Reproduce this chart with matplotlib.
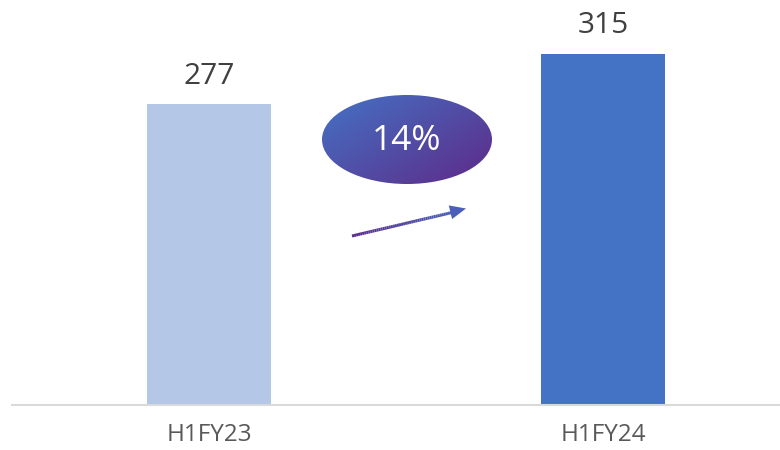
import numpy as np
import matplotlib
matplotlib.use("Agg")
import matplotlib.pyplot as plt
from matplotlib.patches import Ellipse, Polygon
from matplotlib.collections import LineCollection
from matplotlib.colors import LinearSegmentedColormap

categories = ["H1FY23", "H1FY24"]
values = [277, 315]
bar_colors = ["#B4C7E7", "#4472C4"]
growth_label = "14%"

plt.rcParams['font.family'] = ['Open Sans', 'DejaVu Sans']

fig = plt.figure(figsize=(7.8, 4.5), dpi=100)
W, H = 780, 450
ax = fig.add_axes([12 / W, 45 / H, (780 - 12) / W, 405 / H])

x = np.arange(len(categories))
ax.bar(x, values, width=0.315, color=bar_colors, zorder=2)
for xi, v in zip(x, values):
    ax.text(xi, v + 10, f"{v}", ha="center", va="bottom", fontsize=21.5, color="#404040")

ax.set_xlim(-0.5, 1.449)
ax.set_ylim(50, 355.4)
ax.set_xticks(x)
ax.set_xticklabels(categories, fontsize=17.5, color="#595959")
ax.tick_params(axis="x", length=0, pad=13)
ax.set_yticks([])
for s in ["top", "right", "left"]:
    ax.spines[s].set_visible(False)
ax.spines["bottom"].set_color("#D9D9D9")
ax.spines["bottom"].set_linewidth(1.5)

# Overlay in pixel coordinates for the growth badge and arrow
ov = fig.add_axes([0, 0, 1, 1])
ov.set_xlim(0, W)
ov.set_ylim(H, 0)
ov.axis("off")

cmap = LinearSegmentedColormap.from_list("g", ["#4472C4", "#5E2A88"])
cx, cy, ew, eh = 407, 139.5, 170, 89
gx, gy = np.meshgrid(np.linspace(0, 1, 200), np.linspace(0, 1, 200))
grad = (gx * 0.55 + gy * 0.45)
im = ov.imshow(grad, cmap=cmap, extent=(cx - ew / 2, cx + ew / 2, cy + eh / 2, cy - eh / 2),
               origin="upper", zorder=3, interpolation="bilinear")
ell = Ellipse((cx, cy), ew, eh, transform=ov.transData, facecolor="none", edgecolor="none")
ov.add_patch(ell)
im.set_clip_path(ell)
ov.text(cx, cy + 1, growth_label, ha="center", va="center", fontsize=25.5, color="white", zorder=4)

# Gradient arrow
x0, y0, x1, y1 = 352, 236, 452, 212.5
n = 50
xs = np.linspace(x0, x1, n)
ys = np.linspace(y0, y1, n)
pts = np.array([xs, ys]).T.reshape(-1, 1, 2)
segs = np.concatenate([pts[:-1], pts[1:]], axis=1)
acmap = LinearSegmentedColormap.from_list("a", ["#5B2D8A", "#4A5FB8"])
lc = LineCollection(segs, cmap=acmap, linewidths=2.2, zorder=3)
lc.set_array(np.linspace(0, 1, n - 1))
ov.add_collection(lc)
tip = np.array([466, 208.5])
d = tip - np.array([x0, y0]); d = d / np.linalg.norm(d)
nrm = np.array([-d[1], d[0]])
base = tip - d * 16
head = Polygon([tip, base + nrm * 7, base - nrm * 7], closed=True, facecolor="#4A5FB8",
               edgecolor="none", zorder=3)
ov.add_patch(head)

fig.savefig("out.png", dpi=100)
